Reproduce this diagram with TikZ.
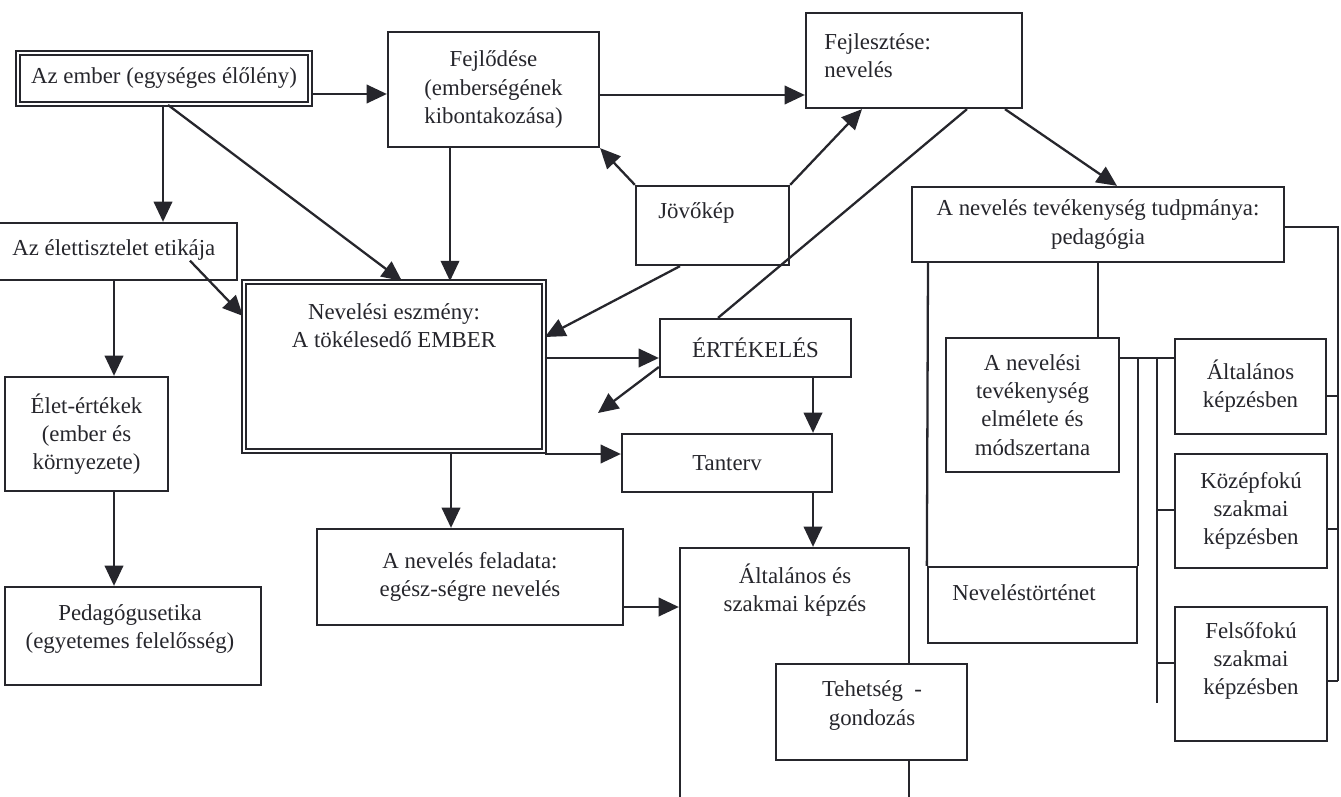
\documentclass[tikz,border=0pt]{standalone}
\usepackage{fontspec}
\setmainfont{Liberation Serif}
\usetikzlibrary{arrows.meta}

\definecolor{ink}{RGB}{38,38,44}
\newcommand\txt{\fontsize{13}{16}\selectfont}

\tikzset{
  box/.style={draw=ink, line width=1.3pt, fill=white, inner sep=0pt, font=\txt, text=ink, align=center},
  dbox/.style={box, line width=1.1pt, double=white, double distance=1.4pt},
  sz/.style 2 args={minimum width=#1*0.02cm, minimum height=#2*0.02cm},
  txtnode/.style={inner sep=0pt, font=\txt, text=ink, align=center},
  arr/.style={draw=ink, line width=1.3pt, -{Triangle[length=11.5pt,width=10.5pt]}},
  ln/.style={draw=ink, line width=1.3pt},
}

\begin{document}
\begin{tikzpicture}[x=0.02cm, y=-0.02cm]
\useasboundingbox[fill=white] (0,0) rectangle (1341,797);
\clip (0,0) rectangle (1341,797);

% left column
\node[dbox, sz={292}{51}] (ember) at (164,78.5) {Az ember (egységes élőlény)};
\node[box, sz={242}{57}] (elet) at (116,251.5) {};
\node[txtnode, anchor=west] (elet-t) at (12,250) {Az élettisztelet etikája};
\node[box, sz={163}{114}] (ertek) at (86.5,434) {Élet-értékek\\(ember és\\környezete)};
\node[box, sz={256}{98}] (pedet) at (133,636) {};
\node[txtnode] (pedet-t) at (130,629) {Pedagógusetika\\(egyetemes felelősség)};

% middle
\node[box, sz={211}{115}] (fejl) at (493.5,89.5) {Fejlődése\\(emberségének\\kibontakozása)};
\node[box, sz={216}{95}] (fejlesz) at (914,60.5) {};
\node[txtnode, anchor=west, align=left] (fejlesz-t) at (824,56) {Fejlesztése:\\nevelés};
\node[box, sz={153}{79}] (jovo) at (712.5,225.5) {};
\node[txtnode, anchor=west] (jovo-t) at (658,213) {Jövőkép};
\node[dbox, sz={300}{169}] (eszm) at (394,366.5) {};
\node[txtnode] (eszm-t) at (394,325.5) {Nevelési eszmény:\\A tökélesedő EMBER};
\node[box, sz={191}{58}] (ert) at (755.5,348) {ÉRTÉKELÉS};
\node[box, sz={210}{58}] (tanterv) at (727,463) {Tanterv};
\node[box, sz={306}{96}] (felad) at (470,577) {A nevelés feladata:\\egész-ségre nevelés};
\node[box, sz={229}{262}] (kepz) at (794.5,679) {};
\node[txtnode] (kepz-t) at (795,590.5) {Általános és\\szakmai képzés};
\node[box, sz={191}{96}] (teh) at (871.5,712) {};
\node[txtnode] (teh-t) at (872,705.5) {Tehetség\ \ -\\gondozás};

% right
\node[box, sz={372}{75}] (tud) at (1098,224.5) {A nevelés tevékenység tudpmánya:\\pedagógia};
\node[box, sz={173}{134}] (elm) at (1032.5,405) {A nevelési\\tevékenység\\elmélete és\\módszertana};
\node[box, sz={209}{76}] (tort) at (1032.5,605) {};
\node[txtnode] (tort-t) at (1024,593) {Neveléstörténet};
\node[box, sz={151}{95}] (alt) at (1250.5,386.5) {Általános\\képzésben};
\node[box, sz={152}{114}] (koz) at (1251,511) {Középfokú\\szakmai\\képzésben};
\node[box, sz={152}{134}] (fel) at (1251,674) {};
\node[txtnode] (fel-t) at (1251,661) {Felsőfokú\\szakmai\\képzésben};

% arrows
\draw[arr] (ember.east |- 0,94) -- (fejl.west |- 0,94);
\draw[arr] (fejl.east |- 0,95) -- (fejlesz.west |- 0,95);
\draw[arr] (163,0 |- ember.south) -- (163,0 |- elet.north);
\draw[arr] (168,0 |- ember.south) -- (402,0 |- eszm.north);
\draw[arr] (450,0 |- fejl.south) -- (450,0 |- eszm.north);
\draw[arr] (jovo.north west) -- (fejl.south east);
\draw[arr] (jovo.north east) -- (862,0 |- fejlesz.south);
\draw[ln] (967,0 |- fejlesz.south) -- (718,0 |- ert.north);
\draw[arr] (1005,0 |- fejlesz.south) -- (1117,0 |- tud.north);
\draw[arr] (680,0 |- jovo.south) -- (eszm.east |- 0,337);
\draw[arr] (190,0 |- elet-t.south) -- (eszm.west |- 0,316);
\draw[arr] (114,0 |- elet.south) -- (114,0 |- ertek.north);
\draw[arr] (114,0 |- ertek.south) -- (114,0 |- pedet.north);
\draw[arr] (eszm.east |- 0,358) -- (ert.west |- 0,358);
\coordinate (ertfree) at (598,413);
\draw[arr] (ert.west |- 0,367) -- (ertfree);
\draw[arr] (eszm.east |- 0,454) -- (tanterv.west |- 0,454);
\draw[arr] (813,0 |- ert.south) -- (813,0 |- tanterv.north);
\draw[arr] (813,0 |- tanterv.south) -- (813,0 |- kepz.north);
\draw[arr] (451,0 |- eszm.south) -- (451,0 |- felad.north);
\draw[arr] (felad.east |- 0,607) -- (kepz.west |- 0,607);

% pedagogy tree
\coordinate (lbus-top) at (1157,358);
\coordinate (lbus-bot) at (1157,703);
\coordinate (rbus-top) at (1338,227);
\coordinate (rbus-bot) at (1338,681);
\draw[ln] (928,0 |- tud.south) -- (tort.north west);
\draw[ln] (1098,0 |- tud.south) -- (1098,0 |- elm.north);
\draw[ln] (elm.east |- lbus-top) -- (alt.west |- lbus-top);
\draw[ln] (tort.north east |- lbus-top) -- (tort.north east);
\draw[ln] (lbus-top) -- (lbus-bot);
\draw[ln] (lbus-top |- 0,510) -- (koz.west |- 0,510);
\draw[ln] (lbus-top |- 0,663) -- (fel.west |- 0,663);
\draw[ln] (tud.east |- rbus-top) -- (rbus-top) -- (rbus-bot);
\draw[ln] (alt.east |- 0,396) -- (rbus-top |- 0,396);
\draw[ln] (koz.east |- 0,529) -- (rbus-top |- 0,529);
\draw[ln] (fel.east |- rbus-bot) -- (rbus-bot);
\end{tikzpicture}
\end{document}
